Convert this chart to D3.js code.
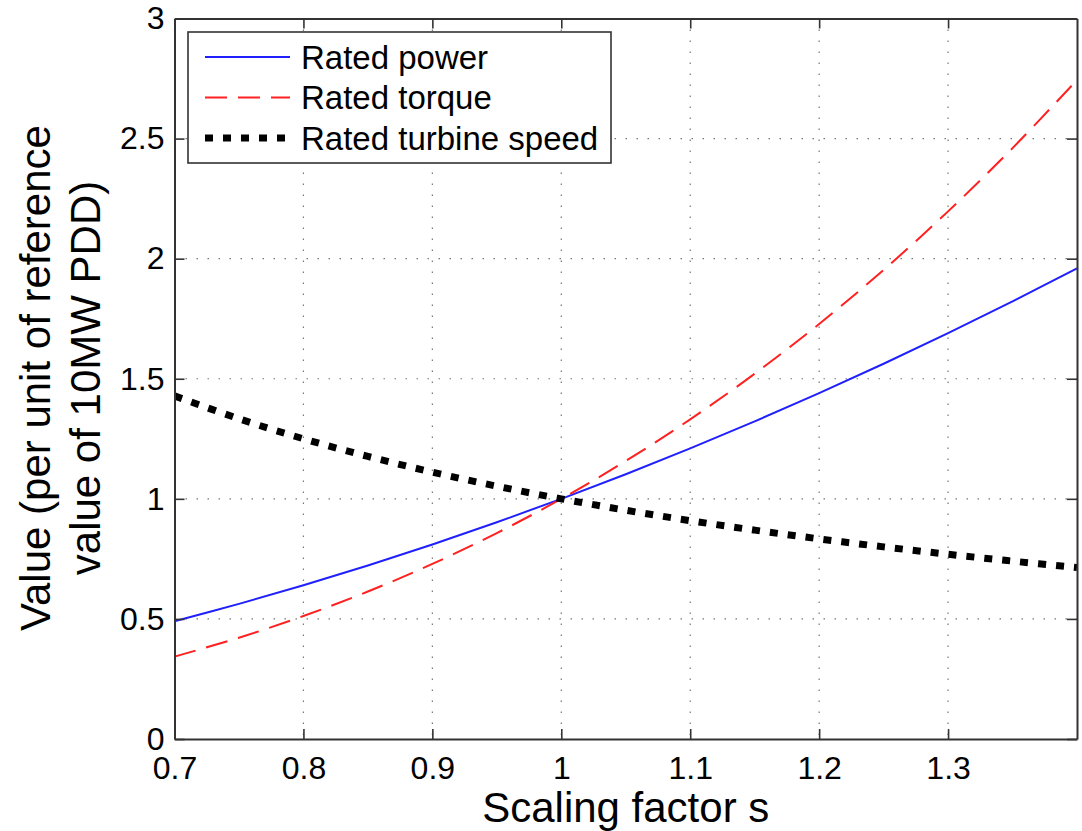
<!DOCTYPE html>
<html>
<head>
<meta charset="utf-8">
<script src="https://cdn.jsdelivr.net/npm/d3@7"></script>
<style>
  body { margin: 0; background: #fff; }
  svg text { font-family: "Liberation Sans", Arial, Helvetica, sans-serif; fill: #000; }
</style>
</head>
<body>
<div id="chart"></div>
<script>
// scaling factor s
const scaleFactor = [0.70, 0.75, 0.80, 0.85, 0.90, 0.95, 1.00, 1.05, 1.10, 1.15, 1.20, 1.25, 1.30, 1.35, 1.40];
// per unit values
const ratedPower = [0.49, 0.5625, 0.64, 0.7225, 0.81, 0.9025, 1.0, 1.1025, 1.21, 1.3225, 1.44, 1.5625, 1.69, 1.8225, 1.96];
const ratedTorque = [0.343, 0.4219, 0.512, 0.6141, 0.729, 0.8574, 1.0, 1.1576, 1.331, 1.5209, 1.728, 1.9531, 2.197, 2.4604, 2.744];
const ratedSpeed = [1.4286, 1.3333, 1.25, 1.1765, 1.1111, 1.0526, 1.0, 0.9524, 0.9091, 0.8696, 0.8333, 0.8, 0.7692, 0.7407, 0.7143];

const xTickValues = [0.7, 0.8, 0.9, 1.0, 1.1, 1.2, 1.3];
const xTickLabels = ['0.7', '0.8', '0.9', '1', '1.1', '1.2', '1.3'];
const yTickValues = [0, 0.5, 1, 1.5, 2, 2.5, 3];
const yTickLabels = ['0', '0.5', '1', '1.5', '2', '2.5', '3'];
const seriesNames = ['Rated power', 'Rated torque', 'Rated turbine speed'];

const width = 1082, height = 831;
const margin = { top: 18.5, right: 5, bottom: 92, left: 174.5 };
const plotW = width - margin.left - margin.right;
const plotH = height - margin.top - margin.bottom;

const svg = d3.select('#chart').append('svg')
  .attr('width', width)
  .attr('height', height);

const g = svg.append('g')
  .attr('transform', 'translate(' + margin.left + ',' + margin.top + ')');

const x = d3.scaleLinear().domain([0.7, 1.4]).range([0, plotW]);
const y = d3.scaleLinear().domain([0, 3]).range([plotH, 0]);

// grid
g.append('g').selectAll('line.gx')
  .data(xTickValues.slice(1))
  .join('line')
  .attr('x1', d => x(d)).attr('x2', d => x(d))
  .attr('y1', 0).attr('y2', plotH)
  .attr('stroke', '#777').attr('stroke-width', 1.2)
  .attr('stroke-dasharray', '1.5,9.5');
g.append('g').selectAll('line.gy')
  .data(yTickValues.slice(1, -1))
  .join('line')
  .attr('y1', d => y(d)).attr('y2', d => y(d))
  .attr('x1', 0).attr('x2', plotW)
  .attr('stroke', '#777').attr('stroke-width', 1.2)
  .attr('stroke-dasharray', '1.5,9.5');

// series
const series = [
  { name: seriesNames[0], values: ratedPower, color: '#2020ff', width: 2, dash: null },
  { name: seriesNames[1], values: ratedTorque, color: '#ff2020', width: 2, dash: '22,11' },
  { name: seriesNames[2], values: ratedSpeed, color: '#000', width: 7, dash: '8,10' }
];

const line = d3.line()
  .x(d => x(d[0]))
  .y(d => y(d[1]))
  .curve(d3.curveCatmullRom);

g.append('defs').append('clipPath')
  .attr('id', 'clip')
  .append('rect')
  .attr('width', plotW)
  .attr('height', plotH);

const lines = g.append('g').attr('clip-path', 'url(#clip)');
series.forEach(s => {
  lines.append('path')
    .datum(scaleFactor.map((v, i) => [v, s.values[i]]))
    .attr('fill', 'none')
    .attr('stroke', s.color)
    .attr('stroke-width', s.width)
    .attr('stroke-dasharray', s.dash)
    .attr('d', line);
});

// axes (box with inward ticks on all sides)
const tickLen = 10;
const axisColor = '#333';
const xb = g.append('g').attr('transform', 'translate(0,' + plotH + ')')
  .call(d3.axisBottom(x).tickValues(xTickValues).tickSizeInner(-tickLen).tickSizeOuter(0)
    .tickPadding(17).tickFormat((d, i) => xTickLabels[i]));
const xt = g.append('g')
  .call(d3.axisTop(x).tickValues(xTickValues).tickSizeInner(-tickLen).tickSizeOuter(0).tickFormat(''));
const yl = g.append('g')
  .call(d3.axisLeft(y).tickValues(yTickValues).tickSizeInner(-tickLen).tickSizeOuter(0)
    .tickPadding(10).tickFormat((d, i) => yTickLabels[i]));
const yr = g.append('g').attr('transform', 'translate(' + plotW + ',0)')
  .call(d3.axisRight(y).tickValues(yTickValues).tickSizeInner(-tickLen).tickSizeOuter(0).tickFormat(''));

[xb, xt, yl, yr].forEach(a => {
  a.select('.domain').attr('stroke', axisColor).attr('stroke-width', 2);
  a.selectAll('.tick line').attr('stroke', axisColor).attr('stroke-width', 1.6);
  a.selectAll('.tick text').style('font-size', '32px').attr('fill', '#000');
});
xb.selectAll('.tick text').attr('dy', '0.71em');
// hide first x tick mark (at axis corner)
xb.selectAll('.tick').filter(d => d === 0.7).select('line').remove();
xt.selectAll('.tick').filter(d => d === 0.7).select('line').remove();

// axis labels
svg.append('text')
  .attr('x', margin.left + x(1.05))
  .attr('y', 822)
  .attr('text-anchor', 'middle')
  .style('font-size', '42px')
  .text('Scaling factor s');

const yLab = svg.append('text')
  .attr('transform', 'translate(50,378) rotate(-90)')
  .attr('text-anchor', 'middle')
  .style('font-size', '42px');
yLab.append('tspan').attr('x', 0).attr('y', 0).text('Value (per unit of reference');
yLab.append('tspan').attr('x', 0).attr('y', 50).text('value of 10MW PDD)');

// legend
const legend = svg.append('g').attr('transform', 'translate(188,32)');
legend.append('rect')
  .attr('width', 423).attr('height', 131)
  .attr('fill', '#fff')
  .attr('stroke', axisColor).attr('stroke-width', 1.6);
series.forEach((s, i) => {
  const ly = 25 + i * 40.5;
  legend.append('line')
    .attr('x1', 17).attr('x2', 102)
    .attr('y1', ly).attr('y2', ly)
    .attr('stroke', s.color)
    .attr('stroke-width', s.width)
    .attr('stroke-dasharray', s.dash);
  legend.append('text')
    .attr('x', 113).attr('y', ly)
    .attr('dy', '0.36em')
    .style('font-size', '33px')
    .text(s.name);
});
</script>
</body>
</html>
